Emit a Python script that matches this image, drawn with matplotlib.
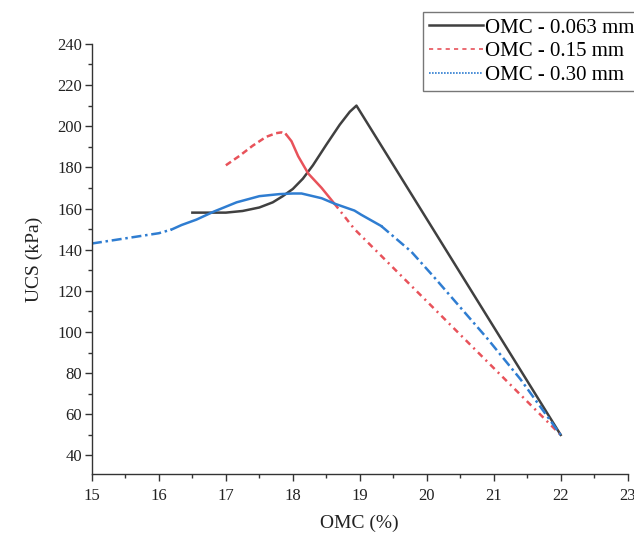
import matplotlib
matplotlib.use("Agg")
import matplotlib.pyplot as plt
from matplotlib.lines import Line2D
from matplotlib.ticker import MultipleLocator

plt.rcParams['font.family'] = ['Liberation Serif', 'DejaVu Serif']

# UCS vs OMC curves for three particle sizes
omc_063 = [16.5, 16.75, 17.0, 17.25, 17.5, 17.7, 17.85, 18.0, 18.15, 18.3, 18.5, 18.7,
           18.85, 18.95, 22.0]
ucs_063 = [158, 158, 158, 158.8, 160.5, 163, 166, 169.5, 174.5, 181, 191, 200.7,
           207, 210, 50]

omc_015 = [17.0, 17.2, 17.4, 17.6, 17.75, 17.83, 17.9, 17.98, 18.08, 18.23, 18.43,
           18.62, 18.92, 22.0]
ucs_015 = [181, 185.5, 190.5, 194.8, 196.6, 197, 196, 192.7, 185.4, 177, 170,
           162.4, 150, 50]

omc_030 = [15.0, 15.5, 16.0, 16.19, 16.34, 16.56, 16.82, 17.16, 17.5, 17.8, 18.0, 18.13,
           18.43, 18.62, 18.92, 19.02, 19.32, 19.77, 20.1, 20.5, 20.9, 21.4, 22.0]
ucs_030 = [143, 145.5, 148, 149.8, 152, 154.6, 158.5, 163, 166, 167, 167.3, 167.3,
           165, 162.4, 159, 157, 151.5, 139, 127, 112, 97, 77, 50]

labels = ['OMC - 0.063 mm', 'OMC - 0.15 mm', 'OMC - 0.30 mm']

c_black = '#404040'
c_red = '#e8525a'
c_blue = '#2f7dd1'
lw = 1.8

fig = plt.figure(figsize=(6.34, 5.39), dpi=100)
ax = fig.add_axes([0.145, 0.1206, 0.845, 0.798])

# 0.063 mm - solid all the way
ax.plot(omc_063, ucs_063, color=c_black, lw=lw, solid_joinstyle='round')

# 0.15 mm - dashed rise, solid drop, dash-dot tail
ax.plot(omc_015[:7], ucs_015[:7], color=c_red, lw=lw, ls=(0, (2.5, 1.5)))
ax.plot(omc_015[6:12], ucs_015[6:12], color=c_red, lw=lw, solid_joinstyle='round')
ax.plot(omc_015[11:], ucs_015[11:], color=c_red, lw=lw, ls=(0, (2.5, 1.8, 0.8, 1.8)))

# 0.30 mm - dash-dot ends, solid middle
ax.plot(omc_030[:4], ucs_030[:4], color=c_blue, lw=lw, ls=(0, (4, 1.5, 1, 1.5)))
ax.plot(omc_030[3:17], ucs_030[3:17], color=c_blue, lw=lw, solid_joinstyle='round')
ax.plot(omc_030[16:], ucs_030[16:], color=c_blue, lw=lw, ls=(0, (4, 1.5, 1, 1.5)))

ax.set_xlim(15, 23)
ax.set_ylim(31, 240)
ax.xaxis.set_major_locator(MultipleLocator(1))
ax.xaxis.set_minor_locator(MultipleLocator(0.5))
ax.yaxis.set_major_locator(MultipleLocator(20))
ax.yaxis.set_minor_locator(MultipleLocator(10))
ax.set_yticks(range(40, 241, 20))

for side in ['top', 'right']:
    ax.spines[side].set_visible(False)
for side in ['left', 'bottom']:
    ax.spines[side].set_color('#333333')
    ax.spines[side].set_linewidth(1.0)

ax.tick_params(which='major', direction='out', length=5, width=1, colors='#333333',
               labelsize=12, labelcolor='#222222')
ax.tick_params(axis='x', which='major', pad=5)
ax.tick_params(axis='y', which='major', pad=2)
ax.tick_params(which='minor', direction='out', length=3, width=1, colors='#333333')

ax.set_xlabel('OMC (%)', fontsize=14, color='#222222', labelpad=8)
ax.set_ylabel('UCS (kPa)', fontsize=14, color='#222222', labelpad=10)

handles = [
    Line2D([], [], color=c_black, lw=lw),
    Line2D([], [], color=c_red, lw=1.2, ls=(0, (2.5, 2.5))),
    Line2D([], [], color=c_blue, lw=1.2, ls=(0, (1, 0.8))),
]
leg = fig.legend(handles, labels, loc='upper left', bbox_to_anchor=(0.667, 0.978),
                 fontsize=15, frameon=True, fancybox=False, handlelength=2.6,
                 handletextpad=0.1, labelspacing=0.2, borderpad=0.3, borderaxespad=0)
leg.get_frame().set_edgecolor('#555555')
leg.get_frame().set_linewidth(1.0)

fig.savefig('out.png', dpi=100)
